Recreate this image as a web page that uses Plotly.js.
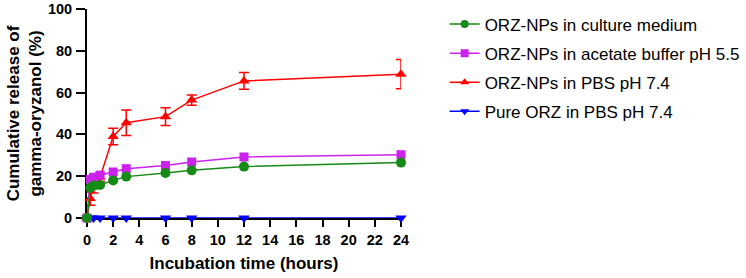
<!DOCTYPE html>
<html>
<head>
<meta charset="utf-8">
<script src="https://cdn.plot.ly/plotly-3.0.1.min.js"></script>
<style>html,body{margin:0;padding:0;background:#fff}#chart{width:746px;height:278px}</style>
</head>
<body>
<div id="chart"></div>
<script>
var timeHours = [0, 0.25, 0.5, 1, 2, 3, 6, 8, 12, 24];
var cultureMedium = [0, 14.5, 15.5, 15.8, 18, 19.8, 21.5, 22.8, 24.6, 26.5];
var acetateBuffer = [0, 18.5, 19.5, 20.5, 22, 23.6, 25.1, 26.8, 29.2, 30.3];
var pbsNPs = [0, 9.3, 15, 19.5, 39, 45.6, 48.5, 56.4, 65.6, 68.8];
var pbsNPsErr = [0, 3.2, 3, 2, 4, 6.1, 4.3, 2.5, 4, 7];
var pureORZ = [0, 0, 0, 0, 0, 0, 0, 0, 0, 0];
var xTicks = [0, 2, 4, 6, 8, 10, 12, 14, 16, 18, 20, 22, 24];
var yTicks = [0, 20, 40, 60, 80, 100];
var seriesNames = ["ORZ-NPs in culture medium", "ORZ-NPs in acetate buffer pH 5.5", "ORZ-NPs in PBS pH 7.4", "Pure ORZ in PBS pH 7.4"];

var styles = [
  {color: "#168a16", symbol: "circle", size: 10},
  {color: "#cc22ee", symbol: "square", size: 9},
  {color: "#ff0000", symbol: "triangle-up", size: 10},
  {color: "#0000ff", symbol: "triangle-down", size: 10}
];

var traces = [
  {x: timeHours, y: pureORZ, showlegend: false,
   mode: "lines+markers", line: {color: styles[3].color, width: 1.6},
   marker: {symbol: styles[3].symbol, size: styles[3].size, color: styles[3].color}, cliponaxis: false},
  {x: timeHours, y: pbsNPs, showlegend: false,
   mode: "lines+markers", line: {color: styles[2].color, width: 1.5},
   marker: {symbol: styles[2].symbol, size: styles[2].size, color: styles[2].color},
   error_y: {type: "data", array: pbsNPsErr, visible: true, color: "#ff0000", thickness: 1.5, width: 5}, cliponaxis: false},
  {x: timeHours, y: acetateBuffer, showlegend: false,
   mode: "lines+markers", line: {color: styles[1].color, width: 1.5},
   marker: {symbol: styles[1].symbol, size: styles[1].size, color: styles[1].color}, cliponaxis: false},
  {x: timeHours, y: cultureMedium, showlegend: false,
   mode: "lines+markers", line: {color: styles[0].color, width: 1.5},
   marker: {symbol: styles[0].symbol, size: styles[0].size, color: styles[0].color}, cliponaxis: false}
];
// legend entries (uniform, without error-bar glyphs)
for (var i = 0; i < seriesNames.length; i++) {
  traces.push({x: [null], y: [null], name: seriesNames[i], showlegend: true, legendgroup: "g" + i,
    mode: "lines+markers", line: {color: styles[i].color, width: 1.5},
    marker: {symbol: styles[i].symbol, size: 8, color: styles[i].color}});
}

var layout = {
  width: 746, height: 278,
  margin: {l: 87, r: 345, t: 9, b: 60, pad: 0, autoexpand: false},
  paper_bgcolor: "#fff", plot_bgcolor: "#fff",
  font: {family: "Arial, Liberation Sans, sans-serif", color: "#000"},
  showlegend: true,
  legend: {x: 1.139, y: 1.012, xanchor: "left", yanchor: "top", traceorder: "grouped", tracegroupgap: 4,
           font: {size: 17, color: "#000"}, itemwidth: 30, bgcolor: "rgba(0,0,0,0)"},
  xaxis: {
    range: [0, 24], tickvals: xTicks, ticktext: xTicks.map(String), layer: "below traces",
    showgrid: false, zeroline: false, showline: true, linecolor: "#000", linewidth: 2,
    ticks: "outside", ticklen: 7, tickwidth: 2, tickcolor: "#000",
    tickfont: {size: 14.5, weight: "bold"}, ticklabelstandoff: 1,
    title: {text: "<b>Incubation time (hours)</b>", font: {size: 17}, standoff: 10}
  },
  yaxis: {
    range: [0, 100], tickvals: yTicks, ticktext: yTicks.map(String), layer: "below traces",
    showgrid: false, zeroline: false, showline: true, linecolor: "#000", linewidth: 2,
    ticks: "outside", ticklen: 9, tickwidth: 2, tickcolor: "#000",
    tickfont: {size: 14.5, weight: "bold"}, ticklabelstandoff: 1,
    title: {text: "<b>Cumulative release of<br>gamma-oryzanol (%)</b>", font: {size: 17}, standoff: 2}
  }
};

Plotly.newPlot("chart", traces, layout, {displayModeBar: false, staticPlot: true});
</script>
</body>
</html>
